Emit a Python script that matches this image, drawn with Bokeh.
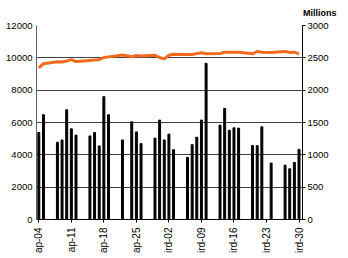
from bokeh.plotting import figure
from bokeh.models import Range1d, LinearAxis, FixedTicker, Title
from bokeh.embed import file_html
from bokeh.resources import INLINE

# trading-day offsets (days from first tick date)
days = [0, 1, 4, 5, 6, 7, 8, 11, 12, 13, 14, 15, 18, 20, 21, 22, 25, 26, 27, 28, 29,
        32, 33, 34, 35, 36, 39, 40, 41, 42, 43, 46, 47, 48, 50, 53, 54, 55, 56]
volume = [5380, 6480, 4780, 4920, 6790, 5610, 5220, 5170, 5380, 4550, 7600, 6480,
          4920, 6040, 5420, 4690, 5030, 6150, 4920, 5280, 4320, 3840, 4630, 5090,
          6150, 9660, 5840, 6870, 5520, 5670, 5650, 4570, 4570, 5730, 3490, 3360,
          3140, 3530, 4340]
index_val = [2344, 2410, 2440, 2437, 2450, 2472, 2442, 2460, 2465, 2472, 2505, 2515,
             2545, 2516, 2535, 2530, 2540, 2505, 2484, 2540, 2556, 2553, 2552, 2565,
             2578, 2562, 2567, 2587, 2585, 2585, 2587, 2562, 2598, 2585, 2583, 2598,
             2583, 2588, 2560]
tick_days = [0, 7, 14, 21, 28, 35, 42, 49, 56]
tick_labels = ["ap-04", "ap-11", "ap-18", "ap-25", "ird-02", "ird-09", "ird-16",
               "ird-23", "ird-30"]
left_ticks = [0, 2000, 4000, 6000, 8000, 10000, 12000]
right_ticks = [0, 500, 1000, 1500, 2000, 2500, 3000]

FONT = "Liberation Sans"

p = figure(width=348, height=258, x_range=Range1d(-0.5, 56.75),
           y_range=Range1d(0, 12000), output_backend="svg", toolbar_location=None,
           min_border_left=36, min_border_right=46, min_border_top=25,
           min_border_bottom=39)
p.outline_line_color = None
p.background_fill_color = "white"
p.xgrid.visible = False
p.ygrid.grid_line_color = "#404040"
p.ygrid.grid_line_width = 1
p.ygrid.ticker = FixedTicker(ticks=left_ticks)

p.extra_y_ranges = {"r": Range1d(0, 3000)}

p.vbar(x=days, top=volume, width=0.42, color="black")
p.line(x=days, y=index_val, y_range_name="r", line_color="#F26B1D", line_width=3)

# x axis
xa = p.xaxis[0]
xa.ticker = FixedTicker(ticks=tick_days)
xa.major_label_overrides = {d: t for d, t in zip(tick_days, tick_labels)}
xa.major_label_orientation = 1.5708
xa.major_label_text_font = FONT
xa.major_label_text_font_size = "10px"
xa.major_label_text_color = "black"
xa.major_label_standoff = 5
xa.major_tick_out = 3
xa.major_tick_in = 0
xa.minor_tick_out = 0
xa.minor_tick_in = 0
xa.axis_line_color = "black"
xa.major_tick_line_color = "black"

# left axis
ya = p.yaxis[0]
ya.ticker = FixedTicker(ticks=left_ticks)
ya.major_label_text_font = FONT
ya.major_label_text_font_size = "9.5px"
ya.major_label_text_color = "black"
ya.major_label_standoff = 4
ya.major_tick_out = 0
ya.major_tick_in = 0
ya.minor_tick_out = 0
ya.minor_tick_in = 0
ya.axis_line_color = "#606060"

# right axis
ra = LinearAxis(y_range_name="r", ticker=FixedTicker(ticks=right_ticks))
ra.major_label_text_font = FONT
ra.major_label_text_font_size = "9.5px"
ra.major_label_text_color = "black"
ra.major_label_standoff = 2
ra.major_tick_out = 3
ra.major_tick_in = 0
ra.minor_tick_out = 0
ra.minor_tick_in = 0
ra.axis_line_color = "black"
ra.major_tick_line_color = "black"
p.add_layout(ra, "right")

p.add_layout(Title(text="Millions", align="right", offset=-34, standoff=11,
                   vertical_align="top",
                   text_font=FONT, text_font_size="9px", text_font_style="bold",
                   text_color="black"), "above")

open("out.html", "w").write(file_html(p, INLINE))
